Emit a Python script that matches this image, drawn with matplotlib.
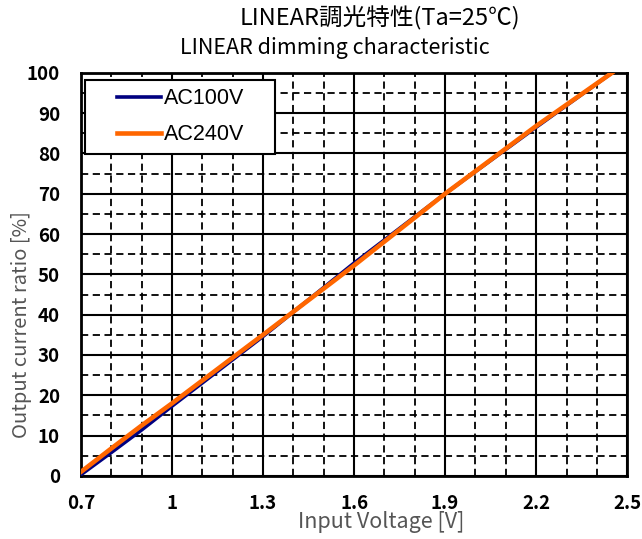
import numpy as np
import matplotlib.pyplot as plt
from matplotlib.ticker import MultipleLocator, FixedLocator
from matplotlib.legend_handler import HandlerLine2D

plt.rcParams['font.family'] = ['Noto Sans CJK JP', 'DejaVu Sans']

# data
v_100 = [0.70, 0.80, 0.90, 1.00, 1.30, 1.60, 1.90, 2.20, 2.45]
i_100 = [0.3, 5.8, 11.4, 17.3, 34.6, 52.8, 70.0, 86.5, 100.0]
v_240 = [0.70, 0.80, 0.90, 1.00, 1.30, 1.60, 1.90, 2.20, 2.45]
i_240 = [1.0, 6.8, 12.5, 18.0, 35.0, 52.2, 70.0, 86.8, 100.0]

xticks = [0.7, 1.0, 1.3, 1.6, 1.9, 2.2, 2.5]
xticklabels = ['0.7', '1', '1.3', '1.6', '1.9', '2.2', '2.5']

fig = plt.figure(figsize=(6.42, 5.39), dpi=100)
ax = fig.add_axes([0.126, 0.117, 0.851, 0.748])

l1, = ax.plot(v_100, i_100, color='#000080', lw=2.6, label='AC100V', zorder=3)
l2, = ax.plot(v_240, i_240, color='#ff6600', lw=3.3, label='AC240V', zorder=4)

ax.set_xlim(0.7, 2.5)
ax.set_ylim(0, 100)
ax.xaxis.set_major_locator(FixedLocator(xticks))
ax.set_xticklabels(xticklabels)
ax.xaxis.set_minor_locator(MultipleLocator(0.1))
ax.yaxis.set_major_locator(MultipleLocator(10))
ax.yaxis.set_minor_locator(MultipleLocator(5))

ax.grid(which='major', color='black', lw=1.5, ls='-')
ax.grid(which='minor', color='black', lw=1.3, ls=(0, (4, 2.5)))
ax.tick_params(which='both', length=0)
ax.tick_params(axis='both', labelsize=13.5, colors='black')
ax.tick_params(axis='y', pad=15)
ax.tick_params(axis='x', pad=13)
for t in ax.get_xticklabels() + ax.get_yticklabels():
    t.set_fontweight('bold')
for s in ax.spines.values():
    s.set_linewidth(2)
    s.set_color('black')

ax.set_xlabel('Input Voltage [V]', fontsize=15.5, color='#555555')
ax.set_ylabel('Output current ratio [%]', fontsize=14.5, color='#555555')
ax.xaxis.set_label_coords(0.549, -0.115)
ax.yaxis.set_label_coords(-0.108, 0.375)
ax.xaxis.label.set_va('center')
ax.yaxis.label.set_va('center')

fig.text(380/642, 1 - 18/539, 'LINEAR調光特性(Ta=25℃)', ha='center', va='center', fontsize=17)
fig.text(335/642, 1 - 48/539, 'LINEAR dimming characteristic', ha='center', va='center', fontsize=15.5)

hm = {l1: HandlerLine2D(xpad=1.1), l2: HandlerLine2D(xpad=1.1)}
leg = ax.legend(loc='upper left', bbox_to_anchor=(0.007, 0.79, 0.348, 0.193),
                mode='expand', prop={'family': 'Liberation Sans', 'size': 15.5},
                fancybox=False, framealpha=1, edgecolor='black',
                handlelength=3.15, handletextpad=0.15, borderpad=0.4,
                labelspacing=0.7, borderaxespad=0, handler_map=hm)
leg.get_frame().set_linewidth(1.5)

fig.savefig('out.png', dpi=100)
